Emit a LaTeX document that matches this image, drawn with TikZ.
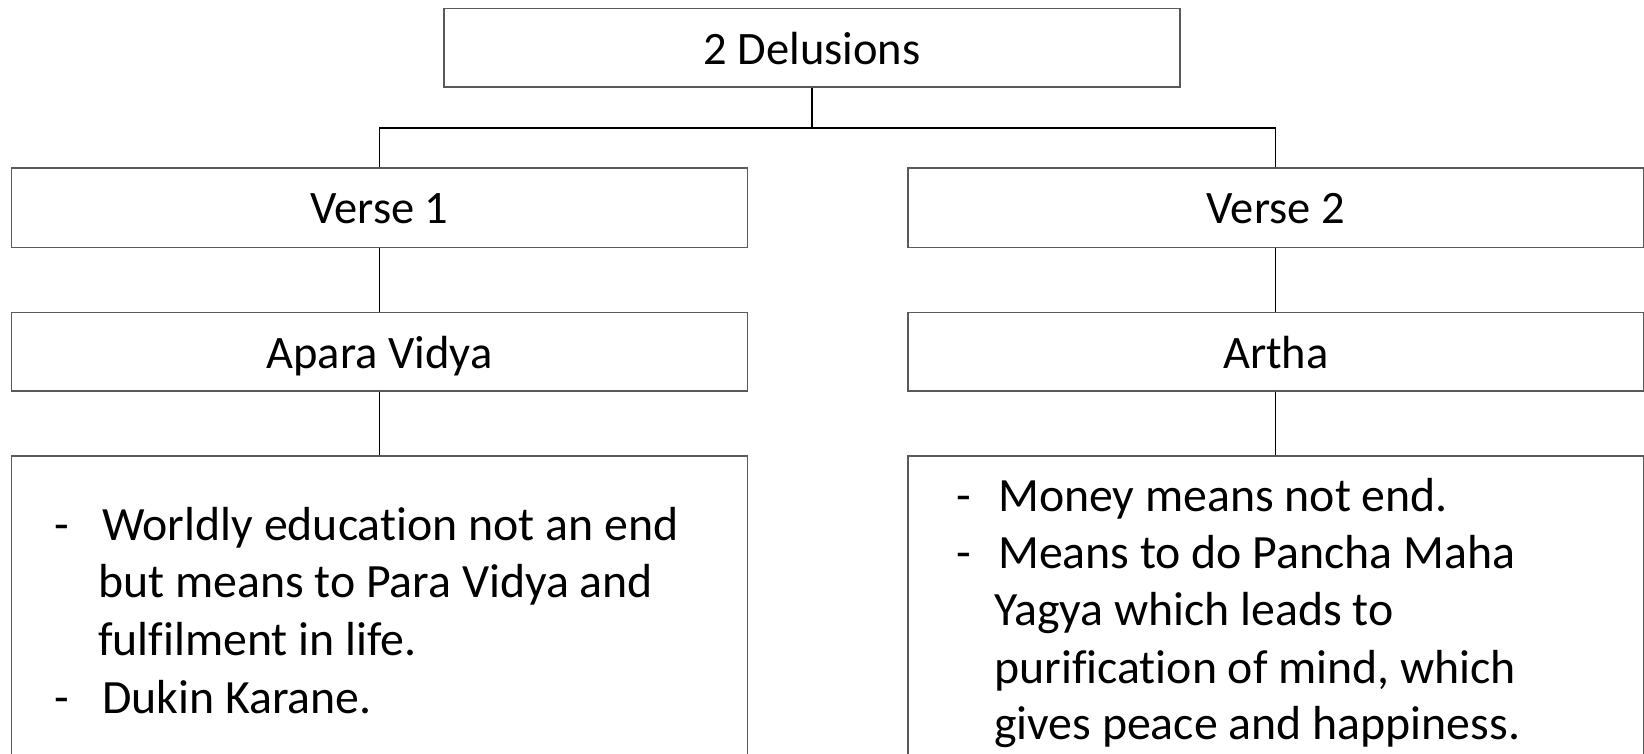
\documentclass[tikz,border=0pt]{standalone}
\usepackage{fontspec}
\setmainfont{Carlito}[Ligatures={NoCommon}]
\definecolor{boxline}{RGB}{89,89,89}
\begin{document}
\begin{tikzpicture}[x=1pt,y=-1pt,
  every node/.style={font=\fontsize{46.5}{57}\selectfont},
  box/.style={draw=boxline,line width=1.6pt,rectangle,inner sep=0pt,
    minimum width=736pt,text height=32.8pt,text depth=0pt,fill=white},
  link/.style={draw=black,line width=1.3pt},
  line/.style={anchor=base west,inner sep=0pt,font=\fontsize{47.8}{57}\selectfont}]
\useasboundingbox (0,0) rectangle (1644,754);
\clip (0,0) rectangle (1644,754);

% title and the two branches
\node[box,minimum height=78.6pt] (top) at (812,47.7) {2 Delusions};
\coordinate (split) at (812,128);

\node[box,minimum height=79.6pt] (v1) at (379.5,207.6) {Verse 1};
\node[box,minimum height=79.6pt] (v2) at (1275.8,207.6) {Verse 2};

\node[box,minimum height=78.6pt] (a1) at (379.5,351.7) {Apara Vidya};
\node[box,minimum height=78.6pt] (a2) at (1275.8,351.7) {Artha};

% lower boxes run past the bottom edge
\node[box,minimum height=340pt] (b1) at (379.5,626) {};
\node[box,minimum height=340pt] (b2) at (1275.8,626) {};

% connectors
\draw[link] (top.south) -- (split);
\draw[link] (v1.north) |- (split) -| (v2.north);
\draw[link] (v1.south) -- (a1.north);
\draw[link] (v2.south) -- (a2.north);
\draw[link] (a1.south) -- (b1.north);
\draw[link] (a2.south) -- (b2.north);

% left list
\node[line] (l1d) at (54,540) {-};
\node[line] (l1)  at (102,540) {Worldly education not an end};
\node[line] (l2)  at (98,597) {but means to Para Vidya and};
\node[line] (l3)  at (98,655) {fulfilment in life.};
\node[line] (l4d) at (54,713) {-};
\node[line] (l4)  at (102,713) {Dukin Karane.};

% right list
\node[line] (r1d) at (956,511) {-};
\node[line] (r1)  at (998,511) {Money means not end.};
\node[line] (r2d) at (956,568) {-};
\node[line] (r2)  at (998,568) {Means to do Pancha Maha};
\node[line] (r3)  at (994,625) {Yagya which leads to};
\node[line] (r4)  at (994,683) {purification of mind, which};
\node[line] (r5)  at (994,739) {gives peace and happiness.};
\end{tikzpicture}
\end{document}
